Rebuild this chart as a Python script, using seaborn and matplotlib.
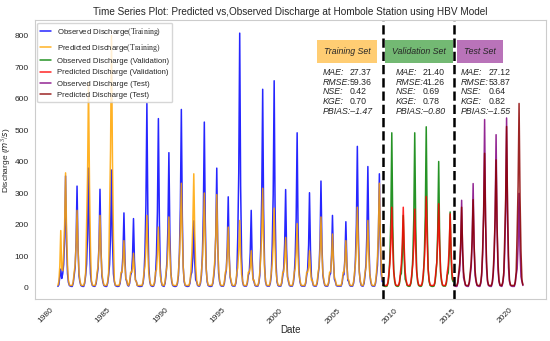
import pandas as pd
import matplotlib.pyplot as plt
import matplotlib.dates as mdates
from matplotlib.ticker import MultipleLocator
import seaborn as sns

# --- Data: monthly discharge (m3/s) ---
train_start = '1980-04-01'
val_start = '2008-08-01'
test_start = '2014-10-01'

train_obs = [
    5, 10, 35, 60, 30, 45, 75, 160, 355, 140, 45, 18,
    8, 6, 5, 5, 15, 40, 65, 145, 323, 130, 39, 20,
    8, 6, 5, 5, 15, 40, 76, 171, 380, 152, 46, 20,
    8, 6, 5, 6, 15, 40, 63, 141, 313, 125, 38, 20,
    8, 6, 5, 5, 15, 40, 75, 168, 374, 150, 45, 20,
    8, 6, 5, 5, 6, 15, 40, 55, 107, 238, 95, 29,
    20, 8, 6, 15, 40, 50, 99, 220, 88, 26, 20, 8,
    6, 5, 5, 5, 6, 15, 40, 117, 263, 585, 234, 70,
    20, 8, 6, 5, 6, 15, 40, 107, 242, 537, 215, 64,
    20, 8, 6, 5, 15, 40, 86, 193, 429, 172, 51, 20,
    8, 6, 5, 5, 6, 15, 40, 113, 255, 566, 226, 68,
    20, 8, 6, 5, 5, 6, 15, 40, 50, 96, 213, 85,
    26, 20, 8, 6, 6, 15, 40, 105, 237, 526, 210, 63,
    20, 8, 6, 5, 5, 6, 15, 40, 76, 171, 380, 152,
    46, 20, 8, 6, 6, 6, 15, 40, 58, 130, 289, 116,
    35, 20, 8, 6, 6, 6, 15, 40, 162, 364, 808, 323,
    97, 20, 8, 6, 6, 6, 15, 40, 49, 111, 246, 98,
    30, 20, 8, 6, 6, 6, 15, 40, 126, 284, 630, 252,
    76, 20, 8, 6, 6, 6, 15, 40, 131, 296, 657, 263,
    79, 20, 8, 6, 6, 6, 15, 40, 62, 140, 312, 125,
    37, 20, 8, 6, 6, 6, 15, 40, 98, 221, 492, 197,
    59, 20, 8, 6, 6, 6, 6, 15, 40, 60, 136, 302,
    121, 36, 20, 8, 6, 6, 6, 15, 40, 68, 153, 339,
    136, 41, 20, 8, 6, 6, 6, 15, 40, 46, 104, 230,
    92, 28, 20, 8, 6, 6, 6, 6, 6, 15, 40, 42,
    95, 210, 84, 25, 20, 8, 6, 6, 6, 15, 40, 90,
    202, 449, 180, 54, 20, 8, 6, 6, 15, 40, 77, 173,
    385, 154, 46, 20, 8, 6, 6, 6, 15, 40, 72, 163,
    362, 145, 43, 20,
]
train_pred = [
    8, 20, 70, 182, 60, 55, 110, 200, 365, 182, 73, 25,
    10, 8, 8, 8, 20, 50, 74, 135, 246, 123, 49, 25,
    10, 8, 8, 8, 20, 50, 195, 358, 650, 325, 130, 25,
    10, 8, 8, 8, 20, 50, 69, 127, 230, 115, 46, 25,
    10, 8, 8, 8, 20, 50, 240, 440, 800, 400, 160, 25,
    10, 8, 8, 8, 8, 20, 50, 50, 83, 150, 75, 30,
    25, 10, 8, 20, 50, 50, 61, 110, 55, 25, 20, 8,
    8, 8, 8, 8, 8, 20, 50, 69, 127, 230, 115, 46,
    25, 10, 8, 8, 8, 20, 50, 58, 106, 193, 97, 39,
    25, 10, 8, 8, 20, 50, 68, 124, 225, 113, 45, 25,
    10, 8, 8, 8, 8, 20, 50, 100, 183, 332, 166, 66,
    25, 10, 8, 8, 8, 8, 20, 50, 109, 199, 362, 181,
    72, 25, 10, 8, 8, 20, 50, 90, 166, 301, 151, 60,
    25, 10, 8, 8, 8, 8, 20, 50, 89, 163, 296, 148,
    59, 25, 10, 8, 8, 8, 20, 50, 58, 106, 193, 97,
    39, 25, 10, 8, 8, 8, 20, 50, 64, 118, 214, 107,
    43, 25, 10, 8, 8, 8, 20, 50, 50, 65, 118, 59,
    25, 25, 10, 8, 8, 8, 20, 50, 95, 174, 316, 158,
    63, 25, 10, 8, 8, 8, 20, 50, 76, 139, 253, 127,
    51, 25, 10, 8, 8, 8, 20, 50, 50, 88, 160, 80,
    32, 25, 10, 8, 8, 8, 20, 50, 61, 112, 204, 102,
    41, 25, 10, 8, 8, 8, 8, 20, 50, 50, 65, 118,
    59, 25, 25, 10, 8, 8, 8, 20, 50, 68, 124, 225,
    113, 45, 25, 10, 8, 8, 8, 20, 50, 51, 94, 171,
    86, 34, 25, 10, 8, 8, 8, 8, 8, 20, 50, 50,
    83, 150, 75, 30, 25, 10, 8, 8, 8, 20, 50, 77,
    141, 256, 128, 51, 25, 10, 8, 8, 20, 50, 64, 118,
    214, 107, 43, 25, 10, 8, 8, 8, 20, 50, 100, 183,
    332, 166, 66, 25,
]
val_obs = [
    8, 6, 5, 5, 6, 15, 40, 98, 221, 492, 197, 59,
    20, 8, 6, 5, 6, 15, 40, 46, 104, 230, 92, 28,
    20, 8, 6, 5, 6, 15, 40, 98, 221, 492, 197, 59,
    20, 8, 6, 5, 6, 15, 40, 102, 230, 511, 204, 61,
    20, 8, 6, 5, 5, 6, 15, 40, 80, 180, 401, 160,
    48, 20, 8, 6, 6, 6, 15, 40, 48, 108, 241, 96,
    29, 20,
]
val_pred = [
    10, 8, 8, 8, 8, 20, 50, 77, 141, 256, 128, 51,
    25, 10, 8, 8, 8, 20, 50, 77, 141, 256, 128, 51,
    25, 10, 8, 8, 8, 20, 50, 75, 138, 250, 125, 50,
    25, 10, 8, 8, 8, 20, 50, 87, 160, 290, 145, 58,
    25, 10, 8, 8, 8, 8, 20, 50, 80, 147, 267, 134,
    53, 25, 10, 8, 8, 8, 20, 50, 71, 129, 235, 118,
    47, 25,
]
test_obs = [
    8, 6, 5, 5, 15, 40, 56, 125, 278, 111, 33, 20,
    8, 6, 5, 5, 15, 40, 66, 149, 331, 132, 40, 20,
    8, 6, 5, 5, 15, 40, 107, 240, 534, 214, 64, 20,
    8, 6, 5, 5, 15, 40, 97, 219, 486, 194, 58, 20,
    8, 6, 5, 15, 40, 108, 243, 539, 216, 65, 20, 8,
    6, 5, 5, 5, 15, 40, 60, 135, 300, 120, 36, 20,
    8,
]
test_pred = [
    10, 8, 8, 8, 20, 50, 77, 141, 256, 128, 51, 25,
    10, 8, 8, 8, 20, 50, 84, 154, 280, 140, 56, 25,
    10, 8, 8, 8, 20, 50, 128, 235, 427, 214, 85, 25,
    10, 8, 8, 8, 20, 50, 122, 223, 406, 203, 81, 25,
    10, 8, 8, 20, 50, 154, 282, 512, 256, 102, 25, 10,
    8, 8, 8, 8, 20, 50, 176, 322, 585, 293, 117, 25,
    10,
]

set_names = ['Training Set', 'Validation Set', 'Test Set']
mae = [27.37, 21.40, 27.12]
rmse = [59.36, 41.26, 53.87]
nse = [0.42, 0.69, 0.64]
kge = [0.70, 0.78, 0.82]
pbias = [-1.47, -0.80, -1.55]

labels = ['Observed Discharge$\\mathrm{(Training)}$', 'Predicted Discharge$\\mathrm{(Training)}$',
          'Observed Discharge (Validation)', 'Predicted Discharge (Validation)',
          'Observed Discharge (Test)', 'Predicted Discharge (Test)']
colors = ['blue', 'orange', 'green', 'red', 'purple', 'darkred']

# --- Long table for seaborn ---
train_dates = pd.date_range(train_start, periods=len(train_obs), freq='MS')
val_dates = pd.date_range(val_start, periods=len(val_obs), freq='MS')
test_dates = pd.date_range(test_start, periods=len(test_obs), freq='MS')
parts = [(train_dates, train_obs), (train_dates, train_pred),
         (val_dates, val_obs), (val_dates, val_pred),
         (test_dates, test_obs), (test_dates, test_pred)]
df = pd.concat([pd.DataFrame({'Date': d, 'Discharge': v, 'series': lab})
                for (d, v), lab in zip(parts, labels)], ignore_index=True)

# --- Style ---
sns.set_style('whitegrid')
plt.rcParams['font.family'] = ['Liberation Sans Narrow', 'Liberation Sans', 'DejaVu Sans']
plt.rcParams['mathtext.fontset'] = 'custom'
plt.rcParams['mathtext.rm'] = 'Liberation Serif'
plt.rcParams['mathtext.it'] = 'DejaVu Sans:italic'

fig, ax = plt.subplots(figsize=(5.5, 3.41), dpi=100)
fig.subplots_adjust(left=0.063, right=0.993, top=0.94, bottom=0.123)

sns.lineplot(data=df, x='Date', y='Discharge', hue='series', hue_order=labels,
             palette=dict(zip(labels, colors)), estimator=None, linewidth=1.1,
             alpha=0.85, ax=ax)

# split markers
for d in [val_dates[0], test_dates[0]]:
    ax.axvline(d, color='black', linestyle='--', linewidth=1.8)

ax.grid(False)
ax.set_title('Time Series Plot: Predicted vs,Observed Discharge at Hombole Station using HBV Model',
             fontsize=7.2, pad=4)
ax.set_xlabel('Date', fontsize=7, labelpad=0)
ax.set_ylabel('Discharge ($m^3/s$)', fontsize=6)
ax.yaxis.set_label_coords(-0.042, 0.5)
ax.xaxis.set_major_locator(mdates.YearLocator(5))
ax.xaxis.set_major_formatter(mdates.DateFormatter('%Y'))
ax.yaxis.set_major_locator(MultipleLocator(100))
ax.tick_params(axis='x', labelsize=6.0, pad=2)
ax.tick_params(axis='y', labelsize=6.0, pad=0.8)
plt.setp(ax.get_xticklabels(), rotation=45, ha='right')

ax.legend(loc='upper left', fontsize=5.6, handlelength=1.4, borderaxespad=0.3,
          labelspacing=0.5, frameon=True)

# metric boxes
box_x = [0.611, 0.752, 0.870]
lab_x = [0.563, 0.705, 0.833]
val_x = [0.615, 0.758, 0.887]
box_col = ['orange', 'green', 'purple']
for i, name in enumerate(set_names):
    ax.text(box_x[i], 0.888, name, transform=ax.transAxes, ha='center', va='center',
            fontsize=6.3, style='italic',
            bbox=dict(boxstyle='square,pad=0.8', facecolor=box_col[i], alpha=0.55, edgecolor='none'))
    rows = [('MAE:', f'{mae[i]:.2f}'), ('RMSE:', f'{rmse[i]:.2f}'),
            ('NSE:', f'{nse[i]:.2f}'), ('KGE:', f'{kge[i]:.2f}')]
    for j, (k, v) in enumerate(rows):
        y = 0.814 - j * 0.035
        ax.text(lab_x[i], y, k, transform=ax.transAxes, va='center', fontsize=6.3, style='italic')
        ax.text(val_x[i], y, v, transform=ax.transAxes, va='center', fontsize=6.3)
    ax.text(lab_x[i], 0.814 - 4 * 0.035, 'PBIAS:' + f'{pbias[i]:.2f}'.replace('-', '\u2013'),
            transform=ax.transAxes, va='center', fontsize=6.3, style='italic')

plt.savefig('out.png', dpi=100)
plt.close()
